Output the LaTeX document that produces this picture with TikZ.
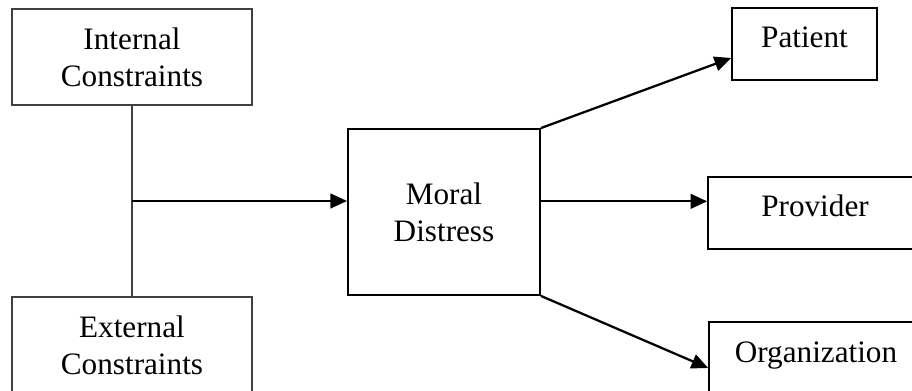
\documentclass[tikz,border=0pt]{standalone}
\usepackage{fontspec}
\setmainfont{Liberation Serif}
\usetikzlibrary{arrows.meta, positioning, calc}
\definecolor{cline}{HTML}{000000}
\definecolor{cgrey}{HTML}{404040}
\tikzset{
  every picture/.style={font=\fontsize{23.4}{27.75}\selectfont, line width=1pt},
  box/.style={draw=#1, rectangle, align=center, inner sep=0pt},
  box/.default=cline,
  onebox/.style={box, line width=1.2pt, text height=30pt, text depth=24pt, minimum width=#1},
  arrow/.style={-{Stealth[length=12.5pt, width=11pt, inset=0pt]}, draw=cline, line width=1.7pt},
  joinline/.style={draw=cgrey, line width=1pt},
}

\begin{document}
\begin{tikzpicture}[x=0.75pt,y=-0.75pt]
  \useasboundingbox (0,0) rectangle (912,391);
  % left column
  \node[box=cgrey, minimum width=180pt, minimum height=72pt] (int) at (132,57) {Internal\\Constraints};
  \node[box=cgrey, minimum width=180pt, minimum height=72pt] (ext) at (132,345) {External\\Constraints};
  \coordinate (join) at ($(int.south)!0.5!(ext.north)$);
  \draw[joinline] (int.south) -- (ext.north);
  % centre
  \node[box, line width=1.4pt, minimum width=144pt, minimum height=124.5pt] (moral) at (444,212) {Moral\\Distress};
  \draw[arrow] (join) -- (join -| moral.west);
  % outcomes
  \node[onebox=108.75pt] (patient) at (804.5,44) {Patient};
  \node[onebox=160.5pt] (provider) at (815,213) {Provider};
  \node[onebox=160.5pt] (org) at (816,358) {Organization};
  \draw[arrow] (moral.north east) -- ([yshift=-10.5pt]patient.west);
  \draw[arrow] ([yshift=8pt]moral.east) -- ([yshift=8pt]moral.east -| provider.west);
  \draw[arrow] (moral.south east) -- ([yshift=-7.5pt]org.west);
\end{tikzpicture}
\end{document}
